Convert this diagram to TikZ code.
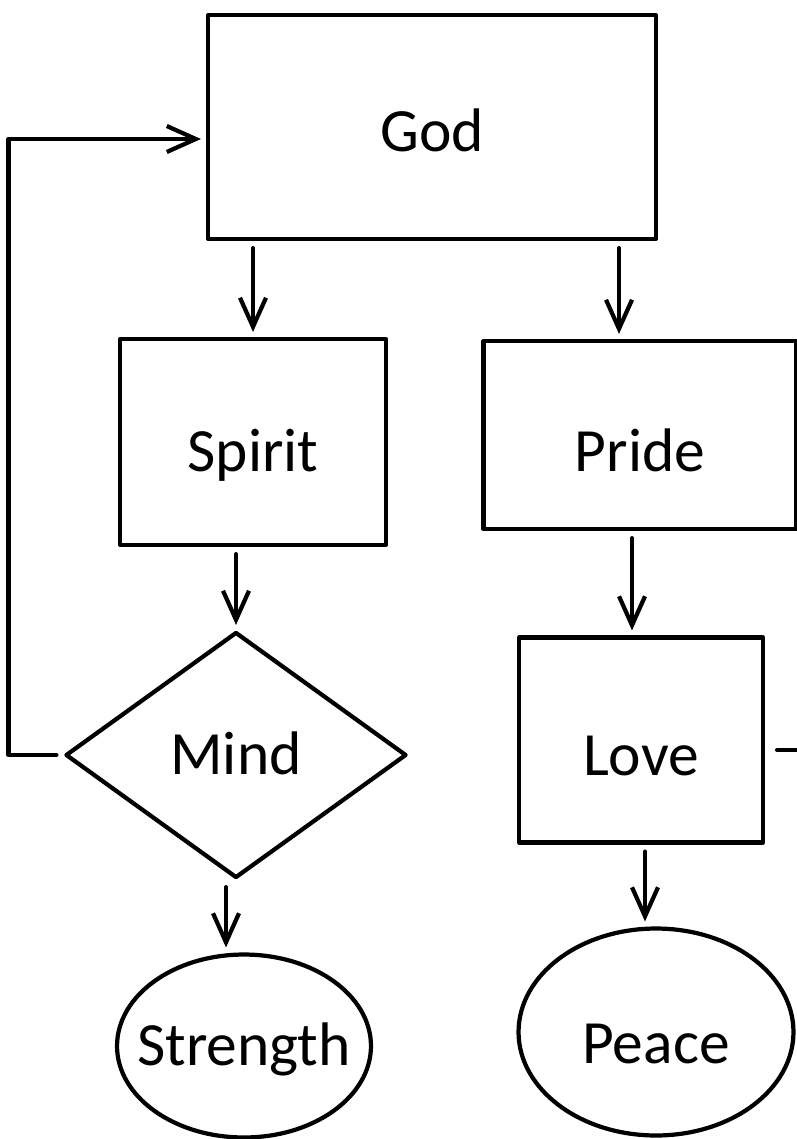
\documentclass[tikz,border=0pt]{standalone}
\usepackage{fontspec}
\setmainfont{Carlito}
\usetikzlibrary{shapes.geometric,arrows.meta}
\begin{document}
\begin{tikzpicture}[x=0.02cm, y=-0.02cm, line width=2.4pt, line cap=round, line join=round,
    word/.style={draw, font=\fontsize{35}{42}\selectfont, text height=0.79cm, text depth=0pt},
    box/.style={word, rectangle},
    decision/.style={word, diamond, inner sep=0pt},
    blob/.style={word, ellipse, inner xsep=-0.5cm, inner ysep=0pt},
    arr/.style={-{Straight Barb[length=5.8mm,width=5.2mm]}, shorten <=0.14cm, shorten >=0.1cm}]
  \useasboundingbox (0,0) rectangle (797,1139);
  \node[box, minimum width=8.96cm, minimum height=4.48cm, text height=0.99cm] (god) at (432,127) {God};
  \node[box, minimum width=5.32cm, minimum height=4.12cm, text height=1.19cm] (spirit) at (253,442) {Spirit};
  \node[box, minimum width=6.26cm, minimum height=3.76cm, text height=1.47cm] (pride) at (640,435) {Pride};
  \node[decision, minimum width=6.82cm, minimum height=4.92cm] (mind) at (236,755) {Mind};
  \node[box, minimum width=4.88cm, minimum height=4.1cm, text height=1.43cm] (love) at (641,740) {Love};
  \node[blob, minimum width=5.08cm, minimum height=3.66cm] (strength) at (244,1046) {Strength};
  \node[blob, minimum width=5.5cm, minimum height=4.14cm, text height=1.27cm] (peace) at (656,1032) {Peace};
  \coordinate (out) at (797,750);

  \draw[arr] (spirit.north |- god.south) -- (spirit.north);
  \draw[arr] ([xshift=-0.42cm]pride.north |- god.south) -- ([xshift=-0.42cm]pride.north);
  \draw[arr] (mind.north |- spirit.south) -- (mind.north);
  \draw[arr] ([xshift=-0.18cm]love.north |- pride.south) -- ([xshift=-0.18cm]love.north);
  \draw[arr] ([xshift=-0.2cm]mind.south) -- ([xshift=-0.2cm]mind.south |- strength.north);
  \draw[arr] ([xshift=0.08cm]love.south) -- ([xshift=0.08cm]love.south |- peace.north);
  \draw[arr] (mind.west) -- ++(-1.1cm,0) |- ([yshift=-0.24cm]god.west);
  \draw ([xshift=0.24cm]love.east |- out) -- (out);
\end{tikzpicture}
\end{document}
